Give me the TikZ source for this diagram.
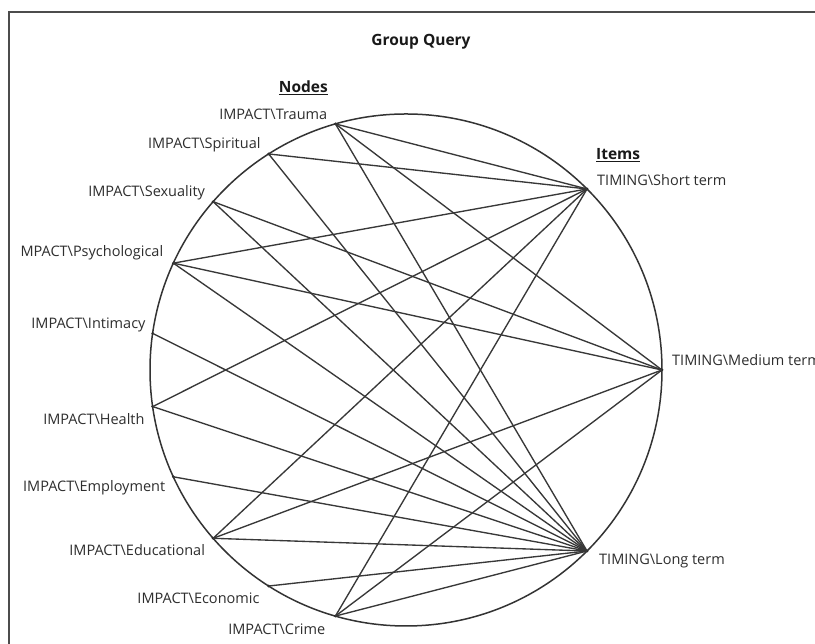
\documentclass[tikz,border=0pt]{standalone}
\usepackage{fontspec}
\setmainfont{Open Sans}
\usetikzlibrary{calc}
\begin{document}
\begin{tikzpicture}[x=1pt,y=1pt,
  lbl/.style={font=\fontsize{14.5}{16}\selectfont, text=black!82, inner sep=0pt},
  head/.style={font=\fontsize{15.5}{18}\selectfont\bfseries, text=black!90, inner sep=0pt},
  pin/.style={circle, fill=black!85, inner sep=0pt, minimum size=3pt},
  link/.style={draw=black!78, line width=1.35pt},
  ring/.style={draw=black!80, line width=1.5pt},
  frame/.style={draw=black!70, line width=1.6pt}]
\useasboundingbox (0,0) rectangle (815,644);
\fill[white] (0,0) rectangle (815,644);
\clip (0,0) rectangle (815,644);

% outer frame of the chart panel
\draw[frame] (815,632) -- (9,632) -- (9,0);

% title and column headings
\node[head] (title) at (421,602) {Group Query};
\node[head, anchor=east] (nodeshead) at (328,556) {\underline{Nodes}};
\node[head, anchor=west] (itemshead) at (596,489) {\underline{Items}};

% the ring everything sits on
\coordinate (C) at (406,274);
\draw[ring] (C) circle (256);

% node points down the left side of the ring
\foreach \n [count=\i from 0] in {trauma,spiritual,sexuality,psychological,intimacy,health,employment,educational,economic,crime}
  \node[pin] (\n) at ($(C)+({106+16.444*\i}:256)$) {};

% item points on the right side of the ring
\node[pin] (short) at ($(C)+(45:256)$) {};
\node[pin] (medium) at ($(C)+(0:256)$) {};
\node[pin] (long) at ($(C)+(-45:256)$) {};

% node labels
\node[lbl, anchor=east] (l-trauma) at ($(trauma)+(-8,10)$) {IMPACT\textbackslash Trauma};
\node[lbl, anchor=east] (l-spiritual) at ($(spiritual)+(-8,9)$) {IMPACT\textbackslash Spiritual};
\node[lbl, anchor=east] (l-sexuality) at ($(sexuality)+(-8,9)$) {IMPACT\textbackslash Sexuality};
\node[lbl, anchor=east] (l-psychological) at ($(psychological)+(-10,10)$) {MPACT\textbackslash Psychological};
\node[lbl, anchor=east] (l-intimacy) at ($(intimacy)+(-7,8)$) {IMPACT\textbackslash Intimacy};
\node[lbl, anchor=east] (l-health) at ($(health)+(-8,-12)$) {IMPACT\textbackslash Health};
\node[lbl, anchor=east] (l-employment) at ($(employment)+(-8,-11)$) {IMPACT\textbackslash Employment};
\node[lbl, anchor=east] (l-educational) at ($(educational)+(-8,-12)$) {IMPACT\textbackslash Educational};
\node[lbl, anchor=east] (l-economic) at ($(economic)+(-9,-12)$) {IMPACT\textbackslash Economic};
\node[lbl, anchor=east] (l-crime) at ($(crime)+(-10,-13)$) {IMPACT\textbackslash Crime};

% item labels
\node[lbl, anchor=west] (l-short) at ($(short)+(10,9)$) {TIMING\textbackslash Short term};
\node[lbl, anchor=west] (l-medium) at ($(medium)+(10,10)$) {TIMING\textbackslash Medium term};
\node[lbl, anchor=west] (l-long) at ($(long)+(12,-10)$) {TIMING\textbackslash Long term};

% links between nodes and items
\foreach \a/\b in {trauma/short, trauma/medium, trauma/long,
                   spiritual/short, spiritual/long,
                   sexuality/medium, sexuality/long,
                   psychological/short, psychological/medium, psychological/long,
                   intimacy/long,
                   health/short, health/long,
                   employment/long,
                   educational/short, educational/medium, educational/long,
                   economic/long,
                   crime/short, crime/medium, crime/long}
  \draw[link] (\a.center) -- (\b.center);
\end{tikzpicture}
\end{document}
